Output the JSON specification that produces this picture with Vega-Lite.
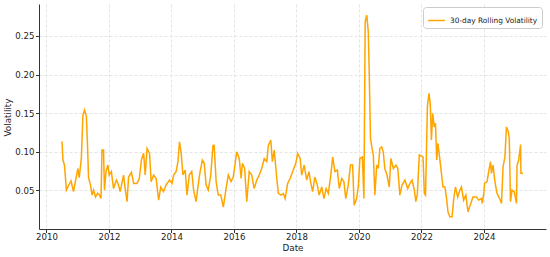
{
  "$schema": "https://vega.github.io/schema/vega-lite/v6.json",
  "width": 507,
  "height": 225,
  "autosize": "none",
  "padding": {"left": 39, "top": 4, "right": 4, "bottom": 28},
  "background": "white",
  "config": {
    "view": {"stroke": null},
    "font": "DejaVu Sans",
    "axis": {
      "labelFont": "DejaVu Sans",
      "titleFont": "DejaVu Sans",
      "labelFontSize": 8.6,
      "titleFontSize": 8.8,
      "titleFontWeight": "normal",
      "labelColor": "#222",
      "titleColor": "#222",
      "domainColor": "#333",
      "tickColor": "#333",
      "tickSize": 3.5,
      "gridColor": "#dddddd",
      "gridDash": [3, 2],
      "gridWidth": 0.8
    }
  },
  "data": {
    "values": [
      {"t": "2010-07-02", "v": 0.113},
      {"t": "2010-07-13", "v": 0.089},
      {"t": "2010-07-31", "v": 0.082},
      {"t": "2010-08-22", "v": 0.050},
      {"t": "2010-09-16", "v": 0.056},
      {"t": "2010-10-15", "v": 0.062},
      {"t": "2010-11-13", "v": 0.048},
      {"t": "2010-12-05", "v": 0.061},
      {"t": "2011-01-04", "v": 0.078},
      {"t": "2011-01-19", "v": 0.066},
      {"t": "2011-02-13", "v": 0.0915},
      {"t": "2011-03-03", "v": 0.147},
      {"t": "2011-03-22", "v": 0.154},
      {"t": "2011-04-13", "v": 0.145},
      {"t": "2011-04-27", "v": 0.1045},
      {"t": "2011-05-08", "v": 0.066},
      {"t": "2011-05-31", "v": 0.0565},
      {"t": "2011-06-18", "v": 0.0435},
      {"t": "2011-07-06", "v": 0.050},
      {"t": "2011-07-28", "v": 0.041},
      {"t": "2011-08-22", "v": 0.046},
      {"t": "2011-09-13", "v": 0.0435},
      {"t": "2011-10-01", "v": 0.039},
      {"t": "2011-10-12", "v": 0.102},
      {"t": "2011-10-30", "v": 0.102},
      {"t": "2011-11-10", "v": 0.050},
      {"t": "2011-11-28", "v": 0.074},
      {"t": "2011-12-20", "v": 0.0825},
      {"t": "2012-01-04", "v": 0.0695},
      {"t": "2012-01-30", "v": 0.074},
      {"t": "2012-02-24", "v": 0.052},
      {"t": "2012-03-28", "v": 0.063},
      {"t": "2012-04-23", "v": 0.0565},
      {"t": "2012-05-11", "v": 0.048},
      {"t": "2012-06-20", "v": 0.0695},
      {"t": "2012-07-09", "v": 0.052},
      {"t": "2012-07-31", "v": 0.035},
      {"t": "2012-08-18", "v": 0.067},
      {"t": "2012-09-20", "v": 0.073},
      {"t": "2012-10-16", "v": 0.0587},
      {"t": "2012-11-25", "v": 0.0587},
      {"t": "2012-12-21", "v": 0.065},
      {"t": "2013-01-15", "v": 0.089},
      {"t": "2013-02-10", "v": 0.0977},
      {"t": "2013-02-28", "v": 0.0695},
      {"t": "2013-03-22", "v": 0.104},
      {"t": "2013-04-20", "v": 0.0977},
      {"t": "2013-05-08", "v": 0.061},
      {"t": "2013-06-07", "v": 0.0695},
      {"t": "2013-07-06", "v": 0.065},
      {"t": "2013-08-04", "v": 0.037},
      {"t": "2013-08-29", "v": 0.054},
      {"t": "2013-10-01", "v": 0.048},
      {"t": "2013-10-30", "v": 0.0565},
      {"t": "2013-12-09", "v": 0.063},
      {"t": "2014-01-08", "v": 0.0587},
      {"t": "2014-01-26", "v": 0.0695},
      {"t": "2014-02-24", "v": 0.074},
      {"t": "2014-03-18", "v": 0.087},
      {"t": "2014-04-05", "v": 0.1127},
      {"t": "2014-04-23", "v": 0.0997},
      {"t": "2014-05-15", "v": 0.0695},
      {"t": "2014-06-10", "v": 0.076},
      {"t": "2014-07-02", "v": 0.0435},
      {"t": "2014-07-28", "v": 0.0695},
      {"t": "2014-08-26", "v": 0.074},
      {"t": "2014-09-17", "v": 0.050},
      {"t": "2014-10-16", "v": 0.035},
      {"t": "2014-11-14", "v": 0.061},
      {"t": "2014-12-02", "v": 0.074},
      {"t": "2014-12-28", "v": 0.089},
      {"t": "2015-01-19", "v": 0.0847},
      {"t": "2015-02-10", "v": 0.0565},
      {"t": "2015-03-07", "v": 0.050},
      {"t": "2015-04-05", "v": 0.0695},
      {"t": "2015-05-01", "v": 0.108},
      {"t": "2015-05-15", "v": 0.108},
      {"t": "2015-06-07", "v": 0.061},
      {"t": "2015-07-02", "v": 0.0435},
      {"t": "2015-07-31", "v": 0.0435},
      {"t": "2015-08-30", "v": 0.028},
      {"t": "2015-10-01", "v": 0.052},
      {"t": "2015-10-27", "v": 0.0695},
      {"t": "2015-11-28", "v": 0.061},
      {"t": "2015-12-24", "v": 0.067},
      {"t": "2016-02-03", "v": 0.0997},
      {"t": "2016-03-03", "v": 0.091},
      {"t": "2016-03-25", "v": 0.065},
      {"t": "2016-04-09", "v": 0.0847},
      {"t": "2016-05-05", "v": 0.078},
      {"t": "2016-05-30", "v": 0.035},
      {"t": "2016-06-28", "v": 0.074},
      {"t": "2016-07-27", "v": 0.0695},
      {"t": "2016-08-25", "v": 0.052},
      {"t": "2016-09-24", "v": 0.063},
      {"t": "2016-10-23", "v": 0.0695},
      {"t": "2016-11-21", "v": 0.078},
      {"t": "2016-12-20", "v": 0.091},
      {"t": "2017-01-19", "v": 0.087},
      {"t": "2017-02-06", "v": 0.108},
      {"t": "2017-03-07", "v": 0.115},
      {"t": "2017-03-25", "v": 0.087},
      {"t": "2017-04-16", "v": 0.102},
      {"t": "2017-05-16", "v": 0.065},
      {"t": "2017-06-03", "v": 0.0457},
      {"t": "2017-07-06", "v": 0.0435},
      {"t": "2017-07-31", "v": 0.0457},
      {"t": "2017-08-22", "v": 0.039},
      {"t": "2017-09-20", "v": 0.0587},
      {"t": "2017-10-19", "v": 0.065},
      {"t": "2017-11-24", "v": 0.076},
      {"t": "2017-12-24", "v": 0.0847},
      {"t": "2018-01-15", "v": 0.0977},
      {"t": "2018-02-13", "v": 0.091},
      {"t": "2018-03-03", "v": 0.0695},
      {"t": "2018-04-01", "v": 0.0825},
      {"t": "2018-05-01", "v": 0.063},
      {"t": "2018-05-27", "v": 0.074},
      {"t": "2018-06-14", "v": 0.061},
      {"t": "2018-07-09", "v": 0.048},
      {"t": "2018-08-04", "v": 0.067},
      {"t": "2018-09-02", "v": 0.0565},
      {"t": "2018-09-24", "v": 0.0435},
      {"t": "2018-10-23", "v": 0.054},
      {"t": "2018-11-18", "v": 0.039},
      {"t": "2018-12-14", "v": 0.052},
      {"t": "2019-01-08", "v": 0.0457},
      {"t": "2019-02-06", "v": 0.0695},
      {"t": "2019-02-28", "v": 0.093},
      {"t": "2019-03-26", "v": 0.074},
      {"t": "2019-04-24", "v": 0.076},
      {"t": "2019-05-16", "v": 0.052},
      {"t": "2019-06-14", "v": 0.065},
      {"t": "2019-07-09", "v": 0.061},
      {"t": "2019-07-31", "v": 0.039},
      {"t": "2019-08-29", "v": 0.0565},
      {"t": "2019-09-24", "v": 0.0825},
      {"t": "2019-10-19", "v": 0.0825},
      {"t": "2019-11-06", "v": 0.0305},
      {"t": "2019-12-05", "v": 0.039},
      {"t": "2019-12-24", "v": 0.054},
      {"t": "2020-01-12", "v": 0.091},
      {"t": "2020-02-10", "v": 0.093},
      {"t": "2020-02-28", "v": 0.039},
      {"t": "2020-03-14", "v": 0.2686},
      {"t": "2020-04-01", "v": 0.277},
      {"t": "2020-04-19", "v": 0.2556},
      {"t": "2020-04-30", "v": 0.2036},
      {"t": "2020-05-15", "v": 0.117},
      {"t": "2020-06-02", "v": 0.104},
      {"t": "2020-06-17", "v": 0.0955},
      {"t": "2020-07-05", "v": 0.0435},
      {"t": "2020-07-27", "v": 0.0825},
      {"t": "2020-08-14", "v": 0.078},
      {"t": "2020-09-01", "v": 0.104},
      {"t": "2020-09-23", "v": 0.106},
      {"t": "2020-10-11", "v": 0.0997},
      {"t": "2020-10-29", "v": 0.078},
      {"t": "2020-11-24", "v": 0.0695},
      {"t": "2020-12-20", "v": 0.054},
      {"t": "2021-01-08", "v": 0.091},
      {"t": "2021-02-06", "v": 0.078},
      {"t": "2021-03-08", "v": 0.0825},
      {"t": "2021-03-30", "v": 0.078},
      {"t": "2021-04-23", "v": 0.0435},
      {"t": "2021-05-19", "v": 0.0565},
      {"t": "2021-06-21", "v": 0.063},
      {"t": "2021-07-24", "v": 0.052},
      {"t": "2021-08-19", "v": 0.0587},
      {"t": "2021-09-13", "v": 0.063},
      {"t": "2021-10-09", "v": 0.050},
      {"t": "2021-10-27", "v": 0.035},
      {"t": "2021-11-14", "v": 0.0457},
      {"t": "2021-12-06", "v": 0.0955},
      {"t": "2022-01-01", "v": 0.094},
      {"t": "2022-01-19", "v": 0.093},
      {"t": "2022-02-03", "v": 0.0457},
      {"t": "2022-02-17", "v": 0.0435},
      {"t": "2022-02-28", "v": 0.0997},
      {"t": "2022-03-11", "v": 0.158},
      {"t": "2022-03-29", "v": 0.1756},
      {"t": "2022-04-13", "v": 0.1626},
      {"t": "2022-04-27", "v": 0.115},
      {"t": "2022-05-12", "v": 0.1496},
      {"t": "2022-05-30", "v": 0.132},
      {"t": "2022-06-13", "v": 0.1366},
      {"t": "2022-06-28", "v": 0.089},
      {"t": "2022-07-12", "v": 0.1106},
      {"t": "2022-07-31", "v": 0.093},
      {"t": "2022-08-22", "v": 0.0717},
      {"t": "2022-09-09", "v": 0.054},
      {"t": "2022-10-01", "v": 0.054},
      {"t": "2022-10-19", "v": 0.041},
      {"t": "2022-11-06", "v": 0.022},
      {"t": "2022-11-28", "v": 0.0153},
      {"t": "2022-12-24", "v": 0.0153},
      {"t": "2023-01-15", "v": 0.041},
      {"t": "2023-02-02", "v": 0.054},
      {"t": "2023-02-28", "v": 0.041},
      {"t": "2023-03-26", "v": 0.050},
      {"t": "2023-04-13", "v": 0.054},
      {"t": "2023-05-08", "v": 0.037},
      {"t": "2023-06-03", "v": 0.0435},
      {"t": "2023-06-28", "v": 0.022},
      {"t": "2023-07-31", "v": 0.0327},
      {"t": "2023-08-25", "v": 0.041},
      {"t": "2023-10-04", "v": 0.041},
      {"t": "2023-11-02", "v": 0.037},
      {"t": "2023-12-02", "v": 0.039},
      {"t": "2023-12-13", "v": 0.0327},
      {"t": "2024-01-01", "v": 0.048},
      {"t": "2024-01-08", "v": 0.0587},
      {"t": "2024-02-06", "v": 0.061},
      {"t": "2024-02-28", "v": 0.076},
      {"t": "2024-03-18", "v": 0.087},
      {"t": "2024-03-28", "v": 0.0717},
      {"t": "2024-04-16", "v": 0.0825},
      {"t": "2024-05-08", "v": 0.061},
      {"t": "2024-06-02", "v": 0.0457},
      {"t": "2024-07-02", "v": 0.039},
      {"t": "2024-07-24", "v": 0.0327},
      {"t": "2024-08-11", "v": 0.080},
      {"t": "2024-09-02", "v": 0.093},
      {"t": "2024-09-20", "v": 0.132},
      {"t": "2024-10-12", "v": 0.1256},
      {"t": "2024-10-23", "v": 0.117},
      {"t": "2024-11-06", "v": 0.035},
      {"t": "2024-11-24", "v": 0.050},
      {"t": "2024-12-20", "v": 0.048},
      {"t": "2025-01-15", "v": 0.0327},
      {"t": "2025-01-22", "v": 0.0825},
      {"t": "2025-02-10", "v": 0.089},
      {"t": "2025-03-04", "v": 0.109},
      {"t": "2025-03-08", "v": 0.0717},
      {"t": "2025-04-01", "v": 0.0717}
    ]
  },
  "mark": {"type": "line", "strokeWidth": 1.5, "interpolate": "linear"},
  "encoding": {
    "x": {
      "field": "t",
      "type": "temporal",
      "title": "Date",
      "scale": {"domain": ["2009-10-06", "2025-12-26"]},
      "axis": {
        "values": [
          {"year": 2010, "month": 1, "date": 1},
          {"year": 2012, "month": 1, "date": 1},
          {"year": 2014, "month": 1, "date": 1},
          {"year": 2016, "month": 1, "date": 1},
          {"year": 2018, "month": 1, "date": 1},
          {"year": 2020, "month": 1, "date": 1},
          {"year": 2022, "month": 1, "date": 1},
          {"year": 2024, "month": 1, "date": 1}
        ],
        "format": "%Y",
        "labelPadding": 0,
        "titlePadding": 2,
        "labelFlush": false
      }
    },
    "y": {
      "field": "v",
      "type": "quantitative",
      "title": "Volatility",
      "scale": {"domain": [-0.0005, 0.2915], "nice": false, "zero": false},
      "axis": {
        "values": [0.05, 0.10, 0.15, 0.20, 0.25],
        "format": ".2f",
        "labelPadding": 1.5,
        "titleX": -31.5,
        "titleY": 113,
        "titleAngle": -90,
        "titleAlign": "center",
        "titleBaseline": "middle"
      }
    },
    "color": {
      "datum": "30-day Rolling Volatility",
      "type": "nominal",
      "scale": {"range": ["#ffa500"]},
      "legend": {
        "title": null,
        "orient": "none",
        "legendX": 384,
        "legendY": 3,
        "symbolType": "stroke",
        "symbolSize": 280,
        "symbolStrokeWidth": 1.5,
        "labelFont": "DejaVu Sans",
        "labelFontSize": 7.4,
        "labelColor": "#222",
        "strokeColor": "#cccccc",
        "fillColor": "white",
        "padding": 4,
        "cornerRadius": 3
      }
    }
  }
}
